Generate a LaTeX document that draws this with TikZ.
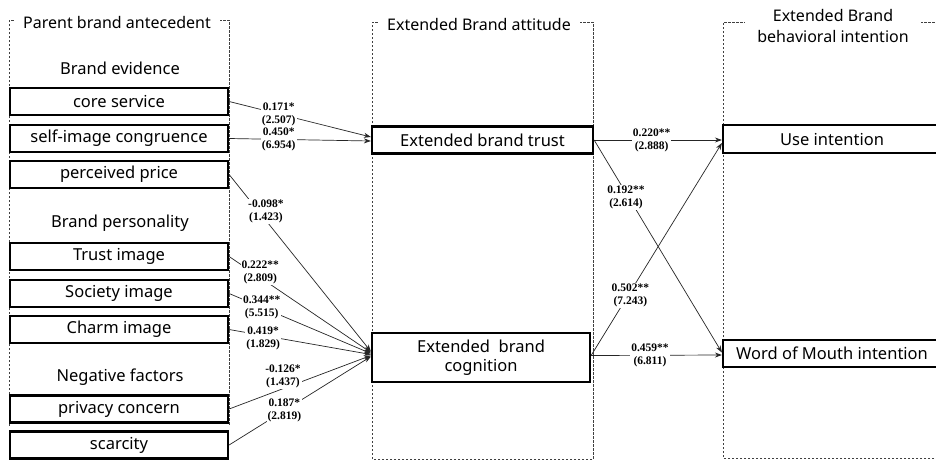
\documentclass[tikz,border=0pt]{standalone}
\usepackage{fontspec}
\setmainfont{Noto Sans}
\newfontfamily\coeffont{Liberation Serif}
\usetikzlibrary{arrows.meta,positioning}
\tikzset{
	itembox/.style={
		draw, rectangle, line width=2.2pt,
		minimum width=218pt, minimum height=27pt,
		inner sep=0pt, text=black, font=\fontsize{16.5}{19}\selectfont
	},
}

\begin{document}
\begin{tikzpicture}[x=1pt, y=-1pt,
		group/.style={draw=black!75, line width=0.8pt, dash pattern=on 2.5pt off 1.5pt},
		head/.style={font=\fontsize{16}{21}\selectfont, fill=white, inner ysep=2pt, inner xsep=9pt, align=center},
		sub/.style={font=\fontsize{16.5}{19}\selectfont},
		coef/.style={font=\coeffont\bfseries\fontsize{11.5}{13}\selectfont, fill=white, inner sep=1pt, align=center},
		link/.style={draw=black!85, line width=0.7pt, -{Stealth[length=7pt,width=5pt]}}
		]
		
		\clip (0,0) rectangle (936,461);
		\fill[white] (0,0) rectangle (936,461);
		
		% the three dashed columns
		\draw[group] (9,426) -- (9,20) -- (229,20) -- (229,426);
		\draw[group] (372,459) -- (372,22) -- (593,22) -- (593,459) -- cycle;
		\draw[group] (950,458) -- (723,458) -- (723,22) -- (950,22);
		
		\node[head] (tleft) at (117,22) {Parent brand antecedent};
		\node[head] (tmid) at (479,24) {Extended Brand attitude};
		\node[head, inner xsep=12pt] (tright) at (833,26) {Extended Brand\\behavioral intention};
		
		% antecedents
		\node[sub] (hevid) at (120,68) {Brand evidence};
		\node[itembox] (core)  at (119,101.5) {core service};
		\node[itembox] (self)  at (119,138.5) {self-image congruence};
		\node[itembox] (price) at (119,174.5) {perceived price};
		
		\node[sub] (hpers) at (120,223) {Brand personality};
		\node[itembox] (timg) at (119,256.5) {Trust image};
		\node[itembox] (simg) at (119,293.5) {Society image};
		\node[itembox] (cimg) at (119,329.5) {Charm image};
		
		\node[sub] (hneg) at (120,377) {Negative factors};
		\node[itembox] (priv) at (119,409) {privacy concern};
		\node[itembox] (scar) at (119,445) {scarcity};
		
		% attitude and intention
		\node[itembox, minimum width=221pt] (trust) at (482.5,140) {Extended brand trust};
		\node[itembox, minimum height=49pt, align=center] (cog) at (481,357.5) {Extended\ \ brand\\cognition};
		\node[itembox, minimum height=28pt] (use) at (832,139) {Use intention};
		\node[itembox] (wom) at (832,353.5) {Word of Mouth intention};
		
		\draw[link] (core.east) -- node[coef, pos=0.35] {0.171*\\(2.507)} ([yshift=3pt]trust.west);
		\draw[link] (self.east) -- node[coef, pos=0.35] {0.450*\\(6.954)} ([yshift=-1pt]trust.west);
		
		\draw[link] (price.east) -- node[coef, pos=0.26, yshift=9pt] {-0.098*\\(1.423)} ([yshift=6pt]cog.west);
		\draw[link] (timg.east) -- node[coef, pos=0.22, yshift=5pt] {0.222**\\(2.809)} ([yshift=5pt]cog.west);
		\draw[link] (simg.east) -- node[coef, pos=0.23] {0.344**\\(5.515)} ([yshift=4pt]cog.west);
		\draw[link] (cimg.east) -- node[coef, pos=0.24, yshift=-3pt] {0.419*\\(1.829)} ([yshift=3pt]cog.west);
		\draw[link] (priv.east) -- node[coef, pos=0.38, yshift=12pt] {-0.126*\\(1.437)} ([yshift=2pt]cog.west);
		\draw[link] (scar.east) -- node[coef, pos=0.39] {0.187*\\(2.819)} ([yshift=1pt]cog.west);
		
		\draw[link] (trust.east) -- node[coef, pos=0.45] {0.220**\\(2.888)} ([yshift=-1pt]use.west);
		\draw[link] (trust.east) -- node[coef, pos=0.25, yshift=-4pt] {0.192**\\(2.614)} ([yshift=1pt]wom.west);
		\draw[link] ([yshift=2pt]cog.east) -- node[coef, pos=0.3, yshift=-4pt] {0.502**\\(7.243)} ([yshift=-4pt]use.west);
		\draw[link] ([yshift=2pt]cog.east) -- node[coef, pos=0.45] {0.459**\\(6.811)} ([yshift=-1.5pt]wom.west);
	\end{tikzpicture}
\end{document}
